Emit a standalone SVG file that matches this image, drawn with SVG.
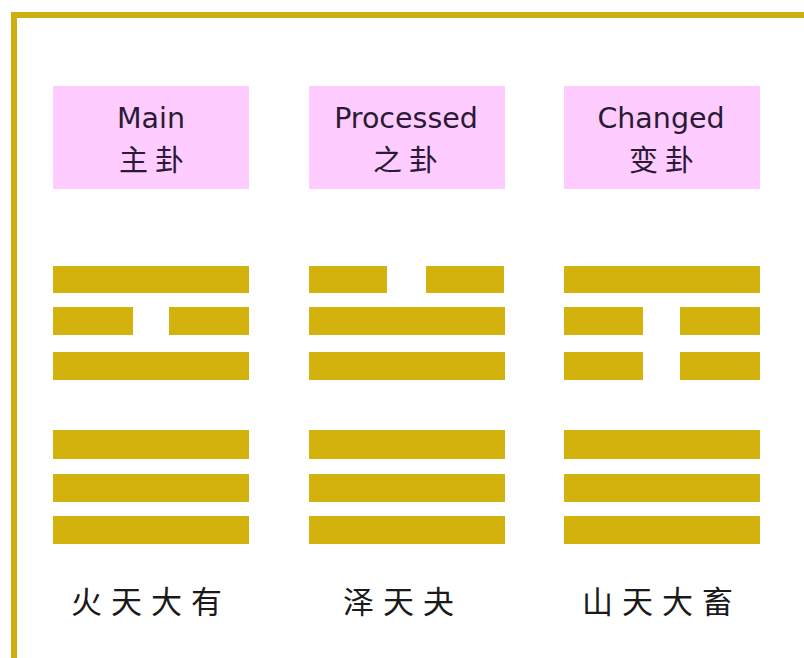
<svg xmlns="http://www.w3.org/2000/svg" width="804" height="658" viewBox="0 0 804 658">
<style>
.lbl{fill:#FFCCFF}
.ln{fill:#D4B20E}
.en{font-family:"DejaVu Sans","Noto Sans",sans-serif;font-size:28.5px;fill:#2a1a35;text-anchor:middle}
.cn{font-family:"Noto Sans CJK SC",sans-serif;font-size:29px;fill:#2a1a35;text-anchor:middle;letter-spacing:7px}
.nm{font-family:"Noto Sans CJK SC",sans-serif;font-size:31px;font-weight:400;fill:#1a1a1a;text-anchor:middle;letter-spacing:9px}
</style>
<rect width="804" height="658" fill="#ffffff"/>
<path d="M14 658 V15 H804" fill="none" stroke="#CDAF12" stroke-width="6"/>
<g id="main">
<rect class="lbl" x="53" y="86" width="196" height="103"/>
<text class="en" x="151" y="128">Main</text>
<text class="cn" x="155" y="171">主卦</text>
<rect class="ln" x="53" y="266" width="196" height="27"/>
<rect class="ln" x="53" y="307" width="80" height="28"/>
<rect class="ln" x="169" y="307" width="80" height="28"/>
<rect class="ln" x="53" y="352" width="196" height="28"/>
<rect class="ln" x="53" y="430" width="196" height="29"/>
<rect class="ln" x="53" y="474" width="196" height="28"/>
<rect class="ln" x="53" y="516" width="196" height="28"/>
<text class="nm" x="151" y="613">火天大有</text>
</g>
<g id="processed">
<rect class="lbl" x="309" y="86" width="196" height="103"/>
<text class="en" x="406" y="128">Processed</text>
<text class="cn" x="409" y="171">之卦</text>
<rect class="ln" x="309" y="266" width="78" height="27"/>
<rect class="ln" x="426" y="266" width="78" height="27"/>
<rect class="ln" x="309" y="307" width="196" height="28"/>
<rect class="ln" x="309" y="352" width="196" height="28"/>
<rect class="ln" x="309" y="430" width="196" height="29"/>
<rect class="ln" x="309" y="474" width="196" height="28"/>
<rect class="ln" x="309" y="516" width="196" height="28"/>
<text class="nm" x="403" y="613">泽天夬</text>
</g>
<g id="changed">
<rect class="lbl" x="564" y="86" width="196" height="103"/>
<text class="en" x="661" y="128">Changed</text>
<text class="cn" x="665" y="171">变卦</text>
<rect class="ln" x="564" y="266" width="196" height="27"/>
<rect class="ln" x="564" y="307" width="79" height="28"/>
<rect class="ln" x="680" y="307" width="80" height="28"/>
<rect class="ln" x="564" y="352" width="79" height="28"/>
<rect class="ln" x="680" y="352" width="80" height="28"/>
<rect class="ln" x="564" y="430" width="196" height="29"/>
<rect class="ln" x="564" y="474" width="196" height="28"/>
<rect class="ln" x="564" y="516" width="196" height="28"/>
<text class="nm" x="662" y="613">山天大畜</text>
</g>
<g id="connectors"/>
</svg>
